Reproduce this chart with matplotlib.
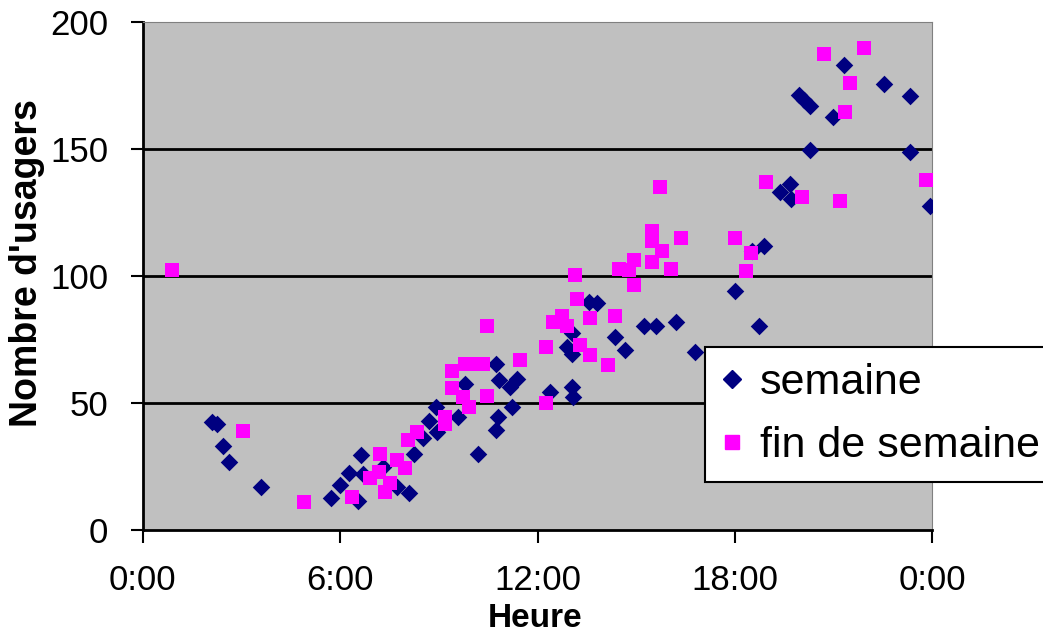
import matplotlib.pyplot as plt
from matplotlib.lines import Line2D

plt.rcParams['font.family'] = ['Liberation Sans', 'DejaVu Sans']

# weekday (semaine): hour of day, number of users
semaine_h = [2.1, 2.25, 2.42, 2.63, 3.58, 5.71, 5.99, 6.28, 6.62, 6.55, 6.70, 7.29, 7.72,
             8.08, 8.25, 8.51, 8.71, 8.91, 8.93, 9.59, 9.79, 10.20, 10.74, 10.81, 10.78,
             10.74, 11.21, 11.16, 11.36, 12.36, 13.04, 13.07, 12.89, 13.04, 13.04, 13.55,
             13.80, 14.36, 14.66, 15.24, 15.60, 16.21, 16.79, 18.01, 18.72, 18.87, 18.51,
             19.38, 19.66, 19.71, 19.93, 20.11, 20.29, 20.29, 20.98, 21.30, 22.52, 23.33,
             23.31, 23.94]
semaine_v = [42.5, 42, 33, 27, 17, 12.5, 18, 22.5, 29.5, 11.5, 22, 25, 17,
             14.5, 30, 36.5, 43, 48.5, 38.5, 44.5, 57.5, 30, 65.5, 59, 44.5,
             39.5, 48.5, 56.5, 59.5, 54.5, 56.5, 52.5, 72, 69.5, 77.5, 90,
             89.5, 76, 71, 80.5, 80.5, 82, 70, 94, 80.5, 112, 110,
             133, 136.5, 130.5, 171.5, 169.5, 167, 149.5, 162.5, 183, 175.5, 171,
             149, 127.5]

# weekend (fin de semaine)
weekend_h = [0.88, 3.03, 4.91, 6.35, 7.21, 7.19, 6.90, 7.36, 7.51, 7.72, 7.97, 8.07,
             8.33, 9.19, 9.19, 9.41, 9.41, 9.74, 9.90, 9.80, 10.10, 10.35, 10.45, 10.47,
             11.47, 12.26, 12.26, 12.48, 12.73, 12.89, 13.14, 13.19, 13.29, 13.60, 13.60,
             14.15, 14.34, 14.47, 14.77, 14.92, 14.92, 15.49, 15.49, 15.49, 15.78, 15.71,
             16.05, 16.37, 17.99, 18.48, 18.33, 18.95, 20.05, 21.20, 20.71, 21.91, 21.48,
             21.35, 23.79]
weekend_v = [102.5, 39, 11, 13, 30, 23, 20.5, 15, 18.5, 27.5, 24.5, 35.5,
             38.5, 44.5, 42, 62.5, 56, 52.5, 48.5, 65.5, 65.5, 65.5, 53, 80.5,
             67, 72, 50, 82, 84.5, 80.5, 100.5, 91, 73, 83.5, 69,
             65, 84.5, 103, 102.5, 106.5, 96.5, 118, 114, 105.5, 110, 135,
             103, 115, 115, 109, 102, 137, 131, 129.5, 187.5, 190, 176,
             164.5, 138]

x_ticks = [0, 6, 12, 18, 24]
x_labels = ['0:00', '6:00', '12:00', '18:00', '0:00']
y_ticks = [0, 50, 100, 150, 200]

navy = '#000080'
magenta = '#FF00FF'

fig = plt.figure(figsize=(10.43, 6.35), dpi=100)
ax = fig.add_axes([0.137, 0.165, 0.757, 0.80])
ax.set_facecolor('#C0C0C0')

ax.scatter(semaine_h, semaine_v, marker='D', s=80, color=navy, linewidths=0, zorder=3)
ax.scatter(weekend_h, weekend_v, marker='s', s=105, color=magenta, linewidths=0, zorder=3)

ax.set_xlim(0, 24)
ax.set_ylim(0, 200)
ax.set_xticks(x_ticks)
ax.set_xticklabels(x_labels)
ax.set_yticks(y_ticks)
ax.tick_params(axis='both', labelsize=25, direction='out', length=9, width=1.5, color='black')
ax.tick_params(axis='x', pad=15)
ax.tick_params(axis='y', pad=16)

for y in [50, 100, 150]:
    ax.axhline(y, color='black', lw=2, zorder=1)

ax.spines['left'].set_color('black')
ax.spines['left'].set_linewidth(2)
ax.spines['bottom'].set_color('black')
ax.spines['bottom'].set_linewidth(2)
ax.spines['top'].set_color('#808080')
ax.spines['right'].set_color('#808080')

fig.text(0.513, 0.026, 'Heure', fontsize=24, fontweight='bold', ha='center', va='center')
fig.text(0.026, 0.586, "Nombre d'usagers", fontsize=27, fontweight='bold',
         rotation=90, ha='center', va='center')

# legend sits over the plot and runs up to the right edge of the figure
handles = [
    Line2D([], [], marker='D', color=navy, ls='none', markersize=9, label='semaine'),
    Line2D([], [], marker='s', color=magenta, ls='none', markersize=10, label='fin de semaine'),
]
leg = fig.legend(handles=handles, loc='lower left', bbox_to_anchor=(705 / 1043, 1 - 482 / 635),
                 fontsize=31, frameon=True, fancybox=False, borderpad=0.38,
                 handlelength=0.5, handletextpad=0.4, labelspacing=0.52, borderaxespad=0)
leg.get_frame().set_edgecolor('black')
leg.get_frame().set_linewidth(1.5)
leg.get_frame().set_facecolor('white')
leg.get_frame().set_alpha(1)

fig.savefig('out.png', dpi=100)
